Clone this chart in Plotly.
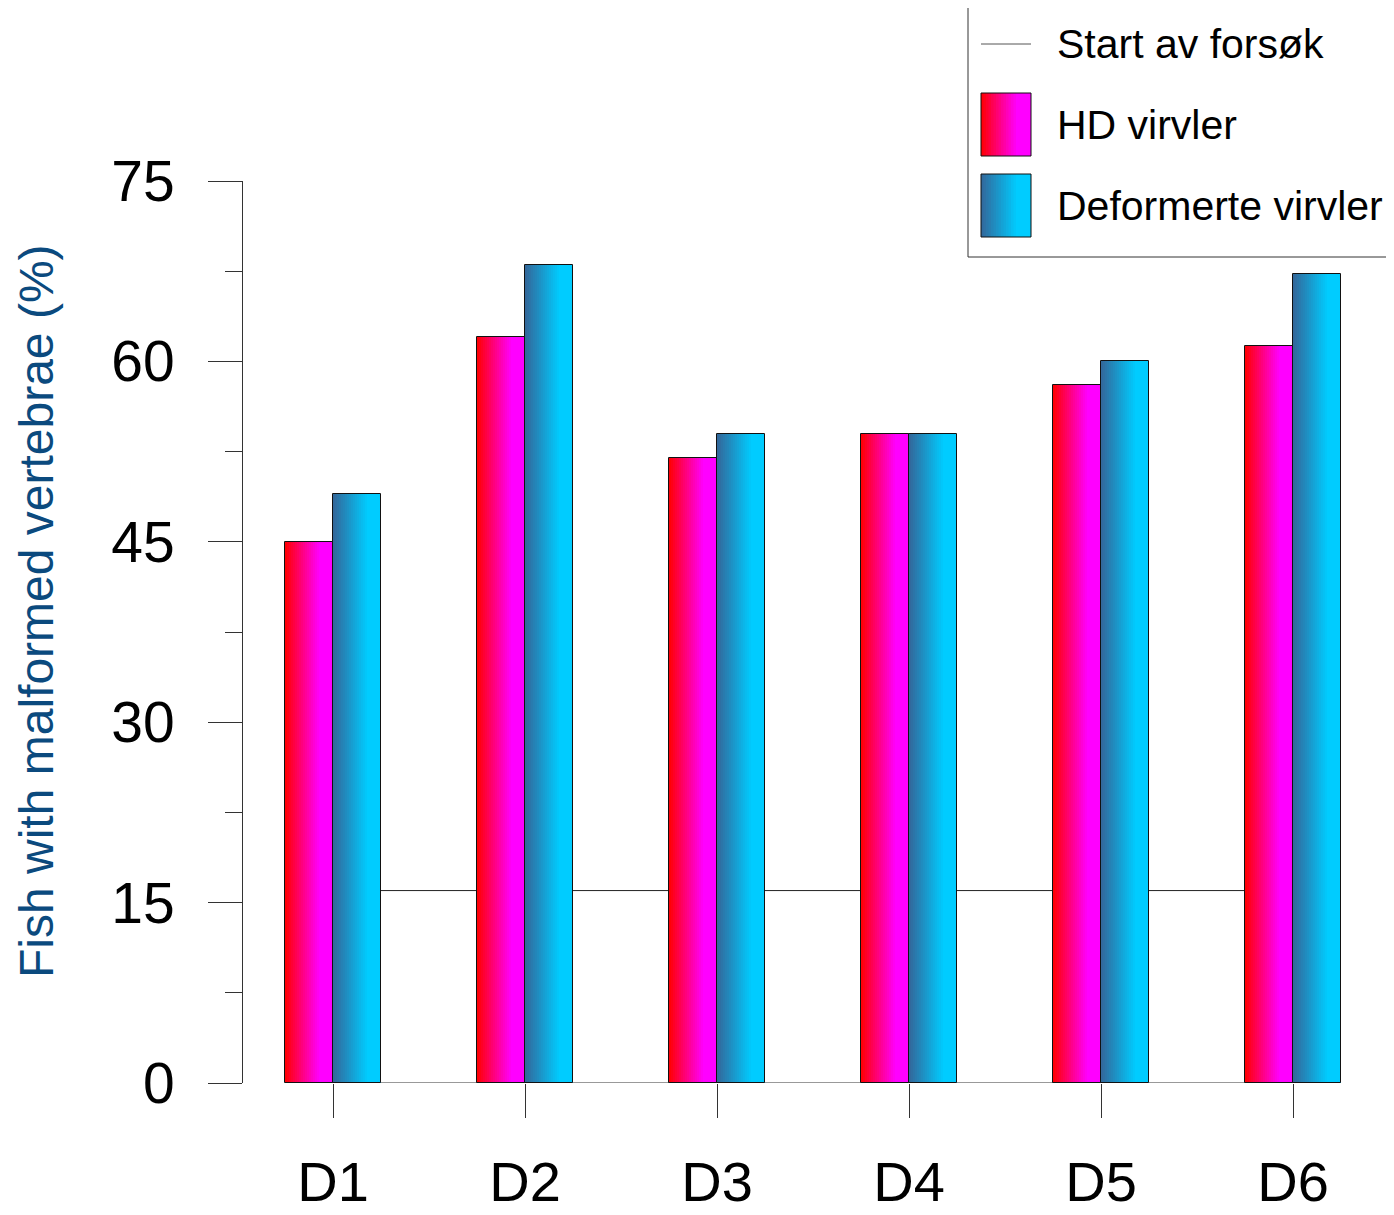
import plotly.graph_objects as go

categories = ["D1", "D2", "D3", "D4", "D5", "D6"]
hd_virvler = [45, 62, 52, 54, 58, 61.3]
deformerte_virvler = [49, 68, 54, 54, 60, 67.3]
start_value = 16
y_ticks = [0, 15, 30, 45, 60, 75]
y_minor_ticks = [7.5, 22.5, 37.5, 52.5, 67.5]
series_names = ["Start av forsøk", "HD virvler", "Deformerte virvler"]

OFF = 8  # page body margin
W, H = 1394 - OFF, 1215 - OFF
L, T = 243 - OFF, 181 - OFF
R = 0
B = H - (1083 - OFF)
PW, PH = W - L - R, H - T - B
PX_PER_UNIT = 192.0
x0_range = (243 - 333) / PX_PER_UNIT
x_range = [x0_range, x0_range + PW / PX_PER_UNIT]

BAR_W = 0.25
N = 24
RED = ((255, 0, 0), (255, 0, 255))
BLUE = ((51, 102, 153), (0, 204, 255))
EDGE = 0.72


def grad(c, t):
    u = min(1.0, t / EDGE)
    a, b = c
    return "rgb(%d,%d,%d)" % tuple(round(a[i] + (b[i] - a[i]) * u) for i in range(3))


def xp(px):  # reference page pixel -> paper
    return (px - OFF - L) / PW


def yp(py):
    return (T + PH - (py - OFF)) / PH


xs = list(range(len(categories)))
fig = go.Figure()

step = BAR_W / N
for vals, cols, base in ((hd_virvler, RED, -BAR_W), (deformerte_virvler, BLUE, 0.0)):
    for k in range(N):
        start = base + k * step
        w = min(step * 1.8, base + BAR_W - start)
        fig.add_trace(go.Bar(
            x=xs, y=vals, width=w, offset=start,
            marker=dict(color=grad(cols, (k + 0.5) / N), line=dict(width=0)),
            showlegend=False, hoverinfo="skip"))

for vals, base, name in ((hd_virvler, -BAR_W, series_names[1]), (deformerte_virvler, 0.0, series_names[2])):
    fig.add_trace(go.Bar(
        x=xs, y=vals, width=BAR_W, offset=base, name=name,
        marker=dict(color="rgba(0,0,0,0)", line=dict(color="#111111", width=1)),
        showlegend=False))

# start line (behind bars) and baseline
fig.add_shape(type="line", xref="x", yref="y", x0=xs[0], x1=xs[-1], y0=start_value, y1=start_value,
              line=dict(color="#222222", width=1), layer="below")
fig.add_shape(type="line", xref="x", yref="y", x0=xs[0] - BAR_W, x1=xs[-1] + BAR_W, y0=0, y1=0,
              line=dict(color="#333333", width=1), layer="below")

# custom legend
fig.add_shape(type="rect", xref="paper", yref="paper", x0=xp(968), x1=xp(1393), y0=yp(257), y1=yp(5),
              line=dict(color="#333333", width=1), fillcolor="white", layer="above")
fig.add_shape(type="line", xref="paper", yref="paper", x0=xp(981), x1=xp(1031), y0=yp(44), y1=yp(44),
              line=dict(color="#555555", width=1))
M = 20
for cols, top, bot in ((RED, 93, 156), (BLUE, 174, 237)):
    lx0, lx1 = 981, 1031
    sw = (lx1 - lx0) / M
    for k in range(M):
        a = lx0 + k * sw
        b = min(lx1, a + sw * 1.8)
        fig.add_shape(type="rect", xref="paper", yref="paper", x0=xp(a), x1=xp(b), y0=yp(bot), y1=yp(top),
                      line=dict(width=0), fillcolor=grad(cols, (k + 0.5) / M))
    fig.add_shape(type="rect", xref="paper", yref="paper", x0=xp(lx0), x1=xp(lx1), y0=yp(bot), y1=yp(top),
                  line=dict(color="#111111", width=1))

LEG_FONT = dict(family="Liberation Sans, Arial, sans-serif", size=41, color="black")
for name, cy in zip(series_names, (44, 125, 206)):
    fig.add_annotation(text=name, xref="paper", yref="paper", x=xp(1055), y=yp(cy),
                       xanchor="left", yanchor="middle", showarrow=False, font=LEG_FONT)

# y-axis title
fig.add_annotation(text="Fish with malformed vertebrae (%)", xref="paper", yref="paper",
                   x=xp(36), y=yp(611), textangle=-90, xanchor="center", yanchor="middle",
                   showarrow=False, font=dict(family="Liberation Sans, Arial, sans-serif", size=48, color="#0B4A7E"))

fig.update_layout(
    width=W, height=H, margin=dict(l=L, r=R, t=T, b=B, pad=0, autoexpand=False),
    paper_bgcolor="white", plot_bgcolor="white", barmode="overlay", bargap=0,
    font=dict(family="Liberation Sans, Arial, sans-serif", size=57, color="black"),
    showlegend=False,
)
fig.update_xaxes(range=x_range, tickmode="array", tickvals=xs, ticktext=categories, automargin=False,
                 showline=False, showgrid=False, zeroline=False, ticks="outside", ticklen=34,
                 tickcolor="#333333", tickwidth=1, ticklabelstandoff=16, tickfont=dict(size=56),
                 fixedrange=True)
fig.update_yaxes(range=[0, 75], tickmode="array", tickvals=y_ticks, showline=True, linecolor="#333333",
                 automargin=False, linewidth=1, showgrid=False, zeroline=False, ticks="outside", ticklen=34,
                 tickcolor="#333333", tickwidth=1, ticklabelstandoff=22,
                 minor=dict(ticks="outside", ticklen=17, tickvals=y_minor_ticks,
                            tickcolor="#333333", tickwidth=1),
                 fixedrange=True)

fig.write_html("out.html")
